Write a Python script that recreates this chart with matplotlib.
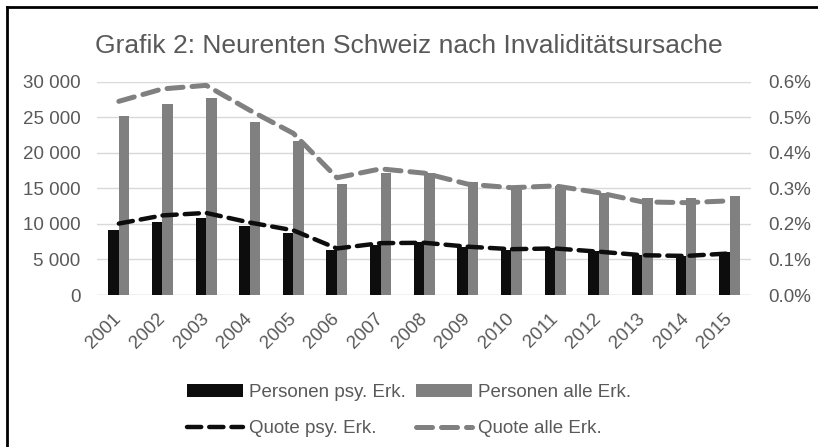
import numpy as np
import matplotlib
matplotlib.use("Agg")
import matplotlib.pyplot as plt
from matplotlib.lines import Line2D
from matplotlib.ticker import FuncFormatter

plt.rcParams["font.family"] = ["Liberation Sans", "DejaVu Sans"]

jahre = ["2001", "2002", "2003", "2004", "2005", "2006", "2007", "2008",
         "2009", "2010", "2011", "2012", "2013", "2014", "2015"]
personen_psy = [9100, 10300, 10900, 9700, 8700, 6300, 7100, 7400,
                6800, 6400, 6600, 6200, 5700, 5500, 6000]
personen_alle = [25200, 26900, 27700, 24400, 21700, 15600, 17200, 17100,
                 15900, 15200, 15300, 14400, 13600, 13600, 14000]
quote_psy = [0.201, 0.224, 0.231, 0.204, 0.182, 0.131, 0.146, 0.147,
             0.136, 0.129, 0.131, 0.122, 0.112, 0.110, 0.117]
quote_alle = [0.545, 0.580, 0.590, 0.520, 0.455, 0.330, 0.355, 0.343,
              0.312, 0.302, 0.307, 0.288, 0.262, 0.260, 0.265]

textfarbe = "#595959"
schwarz = "#0d0d0d"
grau = "#808080"

fig = plt.figure(figsize=(8.18, 4.47), dpi=100)
ax = fig.add_axes([0.1186, 0.340, 0.800, 0.477])
ax2 = ax.twinx()

x = np.arange(len(jahre))
bw = 0.24
ax.bar(x - bw / 2, personen_psy, width=bw, color=schwarz, zorder=3, label="Personen psy. Erk.")
ax.bar(x + bw / 2, personen_alle, width=bw, color=grau, zorder=3, label="Personen alle Erk.")

ax2.plot(x, quote_psy, color=schwarz, lw=3.2, ls=(0, (3.2, 1.8)),
         dash_capstyle="round", label="Quote psy. Erk.")
ax2.plot(x, quote_alle, color=grau, lw=3.6, ls=(0, (3.2, 1.8)),
         dash_capstyle="round", label="Quote alle Erk.")

ax.set_xlim(-0.5, len(jahre) - 0.5)
ax.set_ylim(0, 30000)
ax.set_yticks(np.arange(0, 30001, 5000))
ax.yaxis.set_major_formatter(FuncFormatter(lambda v, p: f"{int(v):,}".replace(",", " ")))
ax2.set_ylim(0, 0.6)
ax2.set_yticks(np.arange(0, 0.61, 0.1))
ax2.yaxis.set_major_formatter(FuncFormatter(lambda v, p: f"{v:.1f}%"))

fs = 13.5
ax.set_xticks(x)
ax.set_xticklabels(jahre, rotation=45, ha="right", va="center", rotation_mode="anchor")
ax.tick_params(axis="x", length=0, pad=15, labelsize=fs, labelcolor=textfarbe)
ax.tick_params(axis="y", length=0, pad=12, labelsize=fs, labelcolor=textfarbe)
ax2.tick_params(axis="y", length=0, pad=12, labelsize=fs, labelcolor=textfarbe)

ax.grid(axis="y", color="#d9d9d9", lw=1, zorder=0)
ax.set_axisbelow(True)
for a in (ax, ax2):
    for s in a.spines.values():
        s.set_visible(False)
ax.axhline(0, color="#d9d9d9", lw=1, zorder=2)

fig.text(0.5, 0.898, "Grafik 2: Neurenten Schweiz nach Invaliditätsursache",
         ha="center", va="center", fontsize=19, color=textfarbe)

h1, l1 = ax.get_legend_handles_labels()
h2, l2 = ax2.get_legend_handles_labels()
handles = [h1[0], h2[0], h1[1], h2[1]]
labels = [l1[0], l2[0], l1[1], l2[1]]
fig.legend(handles, labels, ncol=2, loc="center", bbox_to_anchor=(0.5, 0.081),
           frameon=False, fontsize=fs, labelcolor=textfarbe, handlelength=3.0,
           handletextpad=0.35, columnspacing=0.5, labelspacing=1.0)

# Rahmen oben und links
fig.add_artist(Line2D([0.008, 1.0], [0.984, 0.984], transform=fig.transFigure, color="black", lw=2))
fig.add_artist(Line2D([0.008, 0.008], [0.0, 0.984], transform=fig.transFigure, color="black", lw=2))

fig.savefig("out.png", dpi=100)
